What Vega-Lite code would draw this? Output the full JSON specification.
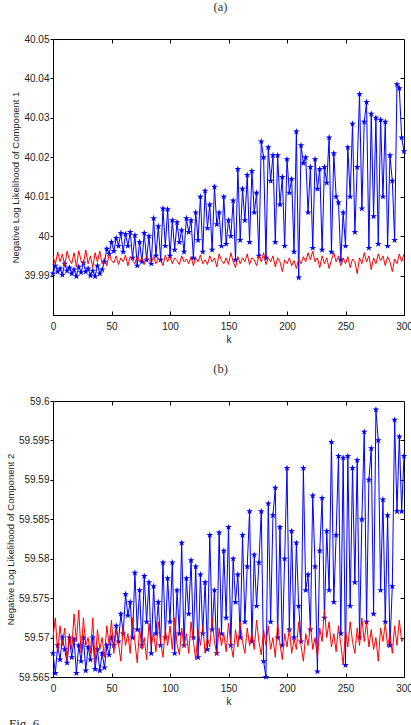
{
"$schema":"https://vega.github.io/schema/vega-lite/v6.json",
"background":"white",
"padding":{"left":4,"top":0,"right":0,"bottom":0},
"spacing":17,
"config":{
 "view":{"stroke":"black","strokeWidth":1},
 "axis":{"grid":false,"domain":false,"labelFont":"Liberation Sans","labelFontSize":10,"labelColor":"#222","titleFont":"Liberation Sans","titleFontWeight":"normal","titleFontSize":9.5,"titleColor":"#222","tickColor":"black","labelFlush":false,"labelOverlap":false},
 "title":{"font":"Liberation Serif","fontSize":12.5,"fontWeight":"normal","color":"#333"}
},
"title":{"text":"Fig. 6","orient":"bottom","anchor":"start","font":"Liberation Serif","fontSize":13,"color":"#222","offset":11,"dx":4},
"datasets":{"d":[
{"k":0,"a_blue":39.9905,"a_red":39.9950,"b_blue":59.5680,"b_red":59.5700},
{"k":2,"a_blue":39.9925,"a_red":39.9928,"b_blue":59.5655,"b_red":59.5725},
{"k":4,"a_blue":39.9910,"a_red":39.9960,"b_blue":59.5690,"b_red":59.5680},
{"k":6,"a_blue":39.9918,"a_red":39.9935,"b_blue":59.5672,"b_red":59.5715},
{"k":8,"a_blue":39.9902,"a_red":39.9955,"b_blue":59.5700,"b_red":59.5690},
{"k":10,"a_blue":39.9930,"a_red":39.9925,"b_blue":59.5685,"b_red":59.5712},
{"k":12,"a_blue":39.9912,"a_red":39.9962,"b_blue":59.5668,"b_red":59.5670},
{"k":14,"a_blue":39.9920,"a_red":39.9940,"b_blue":59.5700,"b_red":59.5705},
{"k":16,"a_blue":39.9905,"a_red":39.9930,"b_blue":59.5675,"b_red":59.5685},
{"k":18,"a_blue":39.9915,"a_red":39.9958,"b_blue":59.5698,"b_red":59.5730},
{"k":20,"a_blue":39.9898,"a_red":39.9922,"b_blue":59.5655,"b_red":59.5695},
{"k":22,"a_blue":39.9922,"a_red":39.9963,"b_blue":59.5690,"b_red":59.5735},
{"k":24,"a_blue":39.9908,"a_red":39.9938,"b_blue":59.5670,"b_red":59.5680},
{"k":26,"a_blue":39.9932,"a_red":39.9928,"b_blue":59.5700,"b_red":59.5725},
{"k":28,"a_blue":39.9910,"a_red":39.9965,"b_blue":59.5658,"b_red":59.5690},
{"k":30,"a_blue":39.9918,"a_red":39.9930,"b_blue":59.5688,"b_red":59.5700},
{"k":32,"a_blue":39.9900,"a_red":39.9950,"b_blue":59.5672,"b_red":59.5680},
{"k":34,"a_blue":39.9912,"a_red":39.9920,"b_blue":59.5700,"b_red":59.5725},
{"k":36,"a_blue":39.9898,"a_red":39.9958,"b_blue":59.5660,"b_red":59.5668},
{"k":38,"a_blue":39.9925,"a_red":39.9935,"b_blue":59.5685,"b_red":59.5710},
{"k":40,"a_blue":39.9905,"a_red":39.9962,"b_blue":59.5658,"b_red":59.5685},
{"k":42,"a_blue":39.9915,"a_red":39.9930,"b_blue":59.5680,"b_red":59.5700},
{"k":44,"a_blue":39.9935,"a_red":39.9945,"b_blue":59.5662,"b_red":59.5675},
{"k":46,"a_blue":39.9968,"a_red":39.9925,"b_blue":59.5690,"b_red":59.5715},
{"k":48,"a_blue":39.9955,"a_red":39.9955,"b_blue":59.5678,"b_red":59.5690},
{"k":50,"a_blue":39.9985,"a_red":39.9938,"b_blue":59.5700,"b_red":59.5722},
{"k":52,"a_blue":39.9962,"a_red":39.9932,"b_blue":59.5690,"b_red":59.5680},
{"k":54,"a_blue":39.9995,"a_red":39.9950,"b_blue":59.5715,"b_red":59.5710},
{"k":56,"a_blue":39.9975,"a_red":39.9928,"b_blue":59.5695,"b_red":59.5692},
{"k":58,"a_blue":40.0008,"a_red":39.9945,"b_blue":59.5730,"b_red":59.5670},
{"k":60,"a_blue":39.9960,"a_red":39.9935,"b_blue":59.5705,"b_red":59.5715},
{"k":62,"a_blue":40.0005,"a_red":39.9952,"b_blue":59.5755,"b_red":59.5690},
{"k":64,"a_blue":39.9975,"a_red":39.9925,"b_blue":59.5728,"b_red":59.5705},
{"k":66,"a_blue":40.0010,"a_red":39.9948,"b_blue":59.5745,"b_red":59.5680},
{"k":68,"a_blue":39.9945,"a_red":39.9938,"b_blue":59.5700,"b_red":59.5725},
{"k":70,"a_blue":40.0002,"a_red":39.9930,"b_blue":59.5782,"b_red":59.5695},
{"k":72,"a_blue":39.9925,"a_red":39.9950,"b_blue":59.5710,"b_red":59.5668},
{"k":74,"a_blue":39.9985,"a_red":39.9935,"b_blue":59.5760,"b_red":59.5712},
{"k":76,"a_blue":39.9935,"a_red":39.9945,"b_blue":59.5690,"b_red":59.5685},
{"k":78,"a_blue":40.0008,"a_red":39.9928,"b_blue":59.5778,"b_red":59.5700},
{"k":80,"a_blue":39.9940,"a_red":39.9950,"b_blue":59.5720,"b_red":59.5672},
{"k":82,"a_blue":40.0000,"a_red":39.9940,"b_blue":59.5770,"b_red":59.5718},
{"k":84,"a_blue":39.9930,"a_red":39.9932,"b_blue":59.5680,"b_red":59.5690},
{"k":86,"a_blue":40.0045,"a_red":39.9948,"b_blue":59.5765,"b_red":59.5705},
{"k":88,"a_blue":39.9950,"a_red":39.9930,"b_blue":59.5705,"b_red":59.5682},
{"k":90,"a_blue":40.0025,"a_red":39.9945,"b_blue":59.5745,"b_red":59.5720},
{"k":92,"a_blue":39.9940,"a_red":39.9938,"b_blue":59.5690,"b_red":59.5695},
{"k":94,"a_blue":40.0070,"a_red":39.9925,"b_blue":59.5795,"b_red":59.5675},
{"k":96,"a_blue":39.9975,"a_red":39.9952,"b_blue":59.5700,"b_red":59.5710},
{"k":98,"a_blue":40.0068,"a_red":39.9935,"b_blue":59.5775,"b_red":59.5690},
{"k":100,"a_blue":39.9950,"a_red":39.9948,"b_blue":59.5720,"b_red":59.5715},
{"k":102,"a_blue":40.0040,"a_red":39.9930,"b_blue":59.5795,"b_red":59.5685},
{"k":104,"a_blue":39.9965,"a_red":39.9945,"b_blue":59.5680,"b_red":59.5725},
{"k":106,"a_blue":40.0035,"a_red":39.9938,"b_blue":59.5760,"b_red":59.5692},
{"k":108,"a_blue":39.9985,"a_red":39.9928,"b_blue":59.5705,"b_red":59.5678},
{"k":110,"a_blue":40.0015,"a_red":39.9950,"b_blue":59.5820,"b_red":59.5712},
{"k":112,"a_blue":39.9960,"a_red":39.9935,"b_blue":59.5690,"b_red":59.5688},
{"k":114,"a_blue":40.0045,"a_red":39.9942,"b_blue":59.5775,"b_red":59.5705},
{"k":116,"a_blue":40.0010,"a_red":39.9930,"b_blue":59.5730,"b_red":59.5680},
{"k":118,"a_blue":40.0040,"a_red":39.9948,"b_blue":59.5798,"b_red":59.5720},
{"k":120,"a_blue":39.9945,"a_red":39.9925,"b_blue":59.5700,"b_red":59.5695},
{"k":122,"a_blue":40.0060,"a_red":39.9945,"b_blue":59.5790,"b_red":59.5672},
{"k":124,"a_blue":39.9990,"a_red":39.9935,"b_blue":59.5675,"b_red":59.5710},
{"k":126,"a_blue":40.0100,"a_red":39.9952,"b_blue":59.5780,"b_red":59.5690},
{"k":128,"a_blue":39.9960,"a_red":39.9930,"b_blue":59.5705,"b_red":59.5715},
{"k":130,"a_blue":40.0115,"a_red":39.9940,"b_blue":59.5770,"b_red":59.5680},
{"k":132,"a_blue":40.0020,"a_red":39.9928,"b_blue":59.5685,"b_red":59.5700},
{"k":134,"a_blue":40.0080,"a_red":39.9950,"b_blue":59.5830,"b_red":59.5688},
{"k":136,"a_blue":39.9965,"a_red":39.9935,"b_blue":59.5710,"b_red":59.5725},
{"k":138,"a_blue":40.0125,"a_red":39.9945,"b_blue":59.5760,"b_red":59.5695},
{"k":140,"a_blue":40.0030,"a_red":39.9922,"b_blue":59.5680,"b_red":59.5678},
{"k":142,"a_blue":40.0060,"a_red":39.9955,"b_blue":59.5833,"b_red":59.5712},
{"k":144,"a_blue":39.9975,"a_red":39.9938,"b_blue":59.5705,"b_red":59.5690},
{"k":146,"a_blue":40.0100,"a_red":39.9930,"b_blue":59.5810,"b_red":59.5705},
{"k":148,"a_blue":39.9980,"a_red":39.9945,"b_blue":59.5725,"b_red":59.5682},
{"k":150,"a_blue":40.0040,"a_red":39.9928,"b_blue":59.5840,"b_red":59.5718},
{"k":152,"a_blue":40.0000,"a_red":39.9958,"b_blue":59.5690,"b_red":59.5692},
{"k":154,"a_blue":40.0090,"a_red":39.9935,"b_blue":59.5800,"b_red":59.5675},
{"k":156,"a_blue":39.9940,"a_red":39.9920,"b_blue":59.5745,"b_red":59.5710},
{"k":158,"a_blue":40.0170,"a_red":39.9948,"b_blue":59.5780,"b_red":59.5688},
{"k":160,"a_blue":39.9990,"a_red":39.9930,"b_blue":59.5700,"b_red":59.5720},
{"k":162,"a_blue":40.0120,"a_red":39.9945,"b_blue":59.5830,"b_red":59.5695},
{"k":164,"a_blue":40.0040,"a_red":39.9935,"b_blue":59.5720,"b_red":59.5680},
{"k":166,"a_blue":40.0155,"a_red":39.9955,"b_blue":59.5790,"b_red":59.5712},
{"k":168,"a_blue":39.9985,"a_red":39.9928,"b_blue":59.5860,"b_red":59.5690},
{"k":170,"a_blue":40.0165,"a_red":39.9945,"b_blue":59.5695,"b_red":59.5705},
{"k":172,"a_blue":40.0060,"a_red":39.9940,"b_blue":59.5805,"b_red":59.5685},
{"k":174,"a_blue":40.0110,"a_red":39.9925,"b_blue":59.5740,"b_red":59.5722},
{"k":176,"a_blue":39.9950,"a_red":39.9950,"b_blue":59.5795,"b_red":59.5695},
{"k":178,"a_blue":40.0240,"a_red":39.9935,"b_blue":59.5860,"b_red":59.5678},
{"k":180,"a_blue":40.0200,"a_red":39.9958,"b_blue":59.5670,"b_red":59.5710},
{"k":182,"a_blue":39.9945,"a_red":39.9928,"b_blue":59.5650,"b_red":59.5690},
{"k":184,"a_blue":40.0225,"a_red":39.9945,"b_blue":59.5870,"b_red":59.5715},
{"k":186,"a_blue":40.0140,"a_red":39.9935,"b_blue":59.5720,"b_red":59.5685},
{"k":188,"a_blue":40.0205,"a_red":39.9950,"b_blue":59.5855,"b_red":59.5700},
{"k":190,"a_blue":39.9985,"a_red":39.9922,"b_blue":59.5890,"b_red":59.5675},
{"k":192,"a_blue":40.0205,"a_red":39.9945,"b_blue":59.5700,"b_red":59.5718},
{"k":194,"a_blue":40.0080,"a_red":39.9935,"b_blue":59.5840,"b_red":59.5692},
{"k":196,"a_blue":40.0150,"a_red":39.9910,"b_blue":59.5690,"b_red":59.5672},
{"k":198,"a_blue":39.9975,"a_red":39.9940,"b_blue":59.5800,"b_red":59.5705},
{"k":200,"a_blue":40.0195,"a_red":39.9930,"b_blue":59.5915,"b_red":59.5688},
{"k":202,"a_blue":40.0110,"a_red":39.9945,"b_blue":59.5710,"b_red":59.5712},
{"k":204,"a_blue":40.0145,"a_red":39.9925,"b_blue":59.5835,"b_red":59.5680},
{"k":206,"a_blue":39.9960,"a_red":39.9938,"b_blue":59.5700,"b_red":59.5698},
{"k":208,"a_blue":40.0265,"a_red":39.9918,"b_blue":59.5820,"b_red":59.5685},
{"k":210,"a_blue":39.9895,"a_red":39.9942,"b_blue":59.5740,"b_red":59.5720},
{"k":212,"a_blue":40.0230,"a_red":39.9930,"b_blue":59.5695,"b_red":59.5690},
{"k":214,"a_blue":40.0185,"a_red":39.9948,"b_blue":59.5915,"b_red":59.5670},
{"k":216,"a_blue":40.0200,"a_red":39.9935,"b_blue":59.5760,"b_red":59.5705},
{"k":218,"a_blue":40.0060,"a_red":39.9958,"b_blue":59.5780,"b_red":59.5690},
{"k":220,"a_blue":40.0175,"a_red":39.9940,"b_blue":59.5710,"b_red":59.5715},
{"k":222,"a_blue":39.9970,"a_red":39.9962,"b_blue":59.5880,"b_red":59.5685},
{"k":224,"a_blue":40.0195,"a_red":39.9935,"b_blue":59.5790,"b_red":59.5700},
{"k":226,"a_blue":40.0120,"a_red":39.9945,"b_blue":59.5657,"b_red":59.5675},
{"k":228,"a_blue":40.0170,"a_red":39.9920,"b_blue":59.5810,"b_red":59.5712},
{"k":230,"a_blue":39.9965,"a_red":39.9950,"b_blue":59.5877,"b_red":59.5695},
{"k":232,"a_blue":40.0175,"a_red":39.9930,"b_blue":59.5725,"b_red":59.5735},
{"k":234,"a_blue":40.0135,"a_red":39.9945,"b_blue":59.5835,"b_red":59.5700},
{"k":236,"a_blue":40.0250,"a_red":39.9918,"b_blue":59.5760,"b_red":59.5720},
{"k":238,"a_blue":39.9960,"a_red":39.9940,"b_blue":59.5948,"b_red":59.5688},
{"k":240,"a_blue":40.0210,"a_red":39.9958,"b_blue":59.5745,"b_red":59.5705},
{"k":242,"a_blue":40.0100,"a_red":39.9935,"b_blue":59.5830,"b_red":59.5682},
{"k":244,"a_blue":40.0085,"a_red":39.9950,"b_blue":59.5930,"b_red":59.5715},
{"k":246,"a_blue":39.9940,"a_red":39.9925,"b_blue":59.5705,"b_red":59.5692},
{"k":248,"a_blue":40.0060,"a_red":39.9945,"b_blue":59.5928,"b_red":59.5665},
{"k":250,"a_blue":39.9975,"a_red":39.9930,"b_blue":59.5665,"b_red":59.5710},
{"k":252,"a_blue":40.0225,"a_red":39.9948,"b_blue":59.5930,"b_red":59.5688},
{"k":254,"a_blue":40.0100,"a_red":39.9920,"b_blue":59.5740,"b_red":59.5720},
{"k":256,"a_blue":40.0285,"a_red":39.9942,"b_blue":59.5915,"b_red":59.5695},
{"k":258,"a_blue":40.0010,"a_red":39.9935,"b_blue":59.5770,"b_red":59.5680},
{"k":260,"a_blue":40.0175,"a_red":39.9905,"b_blue":59.5925,"b_red":59.5712},
{"k":262,"a_blue":40.0360,"a_red":39.9945,"b_blue":59.5700,"b_red":59.5690},
{"k":264,"a_blue":40.0070,"a_red":39.9930,"b_blue":59.5850,"b_red":59.5725},
{"k":266,"a_blue":40.0290,"a_red":39.9958,"b_blue":59.5961,"b_red":59.5695},
{"k":268,"a_blue":40.0340,"a_red":39.9935,"b_blue":59.5720,"b_red":59.5720},
{"k":270,"a_blue":39.9970,"a_red":39.9950,"b_blue":59.5900,"b_red":59.5688},
{"k":272,"a_blue":40.0310,"a_red":39.9915,"b_blue":59.5940,"b_red":59.5710},
{"k":274,"a_blue":40.0050,"a_red":39.9945,"b_blue":59.5730,"b_red":59.5685},
{"k":276,"a_blue":40.0300,"a_red":39.9930,"b_blue":59.5989,"b_red":59.5700},
{"k":278,"a_blue":39.9980,"a_red":39.9955,"b_blue":59.5950,"b_red":59.5670},
{"k":280,"a_blue":40.0295,"a_red":39.9938,"b_blue":59.5760,"b_red":59.5712},
{"k":282,"a_blue":40.0100,"a_red":39.9950,"b_blue":59.5875,"b_red":59.5695},
{"k":284,"a_blue":40.0290,"a_red":39.9925,"b_blue":59.5720,"b_red":59.5718},
{"k":286,"a_blue":39.9975,"a_red":39.9948,"b_blue":59.5855,"b_red":59.5688},
{"k":288,"a_blue":40.0205,"a_red":39.9935,"b_blue":59.5690,"b_red":59.5705},
{"k":290,"a_blue":40.0140,"a_red":39.9910,"b_blue":59.5765,"b_red":59.5680},
{"k":292,"a_blue":39.9990,"a_red":39.9942,"b_blue":59.5976,"b_red":59.5715},
{"k":294,"a_blue":40.0385,"a_red":39.9930,"b_blue":59.5860,"b_red":59.5690},
{"k":296,"a_blue":40.0375,"a_red":39.9955,"b_blue":59.5955,"b_red":59.5722},
{"k":298,"a_blue":40.0250,"a_red":39.9935,"b_blue":59.5860,"b_red":59.5695},
{"k":300,"a_blue":40.0215,"a_red":39.9955,"b_blue":59.5930,"b_red":59.5700}
]},
"vconcat":[
{
 "width":351,"height":276,
 "title":{"text":"(a)","offset":20.5,"dx":-8},
 "data":{"name":"d"},
 "resolve":{"axis":{"x":"independent","y":"independent"}},
 "layer":[
  {"mark":{"type":"line","color":"#0000ff","strokeWidth":1},
   "encoding":{
    "x":{"field":"k","type":"quantitative","scale":{"domain":[0,300],"nice":false,"zero":false},
         "axis":{"orient":"bottom","values":[0,50,100,150,200,250,300],"tickSize":-4,"labelPadding":10,"title":"k","titlePadding":3,"titleFontSize":10}},
    "y":{"field":"a_blue","type":"quantitative","scale":{"domain":[39.98,40.05],"nice":false,"zero":false},
         "axis":{"orient":"left","values":[39.99,40,40.01,40.02,40.03,40.04,40.05],"format":"~g","tickSize":3,"labelPadding":1,"title":"Negative Log Likelihood of Component 1","titlePadding":3}}}},
  {"mark":{"type":"point","shape":"M0,-1L0.223,-0.307L0.951,-0.309L0.361,0.117L0.588,0.809L0,0.38L-0.588,0.809L-0.361,0.117L-0.951,-0.309L-0.223,-0.307Z","filled":true,"color":"#0000ff","size":50,"opacity":1},
   "encoding":{
    "x":{"field":"k","type":"quantitative","scale":{"domain":[0,300],"nice":false,"zero":false},"axis":null},
    "y":{"field":"a_blue","type":"quantitative","scale":{"domain":[39.98,40.05],"nice":false,"zero":false},"axis":null}}},
  {"mark":{"type":"line","color":"#ff0000","strokeWidth":1},
   "encoding":{
    "x":{"field":"k","type":"quantitative","scale":{"domain":[0,300],"nice":false,"zero":false},
         "axis":{"orient":"top","values":[50,100,150,200,250],"tickSize":-4,"labels":false,"title":null}},
    "y":{"field":"a_red","type":"quantitative","scale":{"domain":[39.98,40.05],"nice":false,"zero":false},
         "axis":{"orient":"right","values":[39.99,40,40.01,40.02,40.03,40.04],"tickSize":-4,"labels":false,"title":null}}}}
 ]
},
{
 "width":351,"height":276,
 "title":{"text":"(b)","offset":20.5,"dx":-8},
 "data":{"name":"d"},
 "resolve":{"axis":{"x":"independent","y":"independent"}},
 "layer":[
  {"mark":{"type":"line","color":"#0000ff","strokeWidth":1},
   "encoding":{
    "x":{"field":"k","type":"quantitative","scale":{"domain":[0,300],"nice":false,"zero":false},
         "axis":{"orient":"bottom","values":[0,50,100,150,200,250,300],"tickSize":-4,"labelPadding":10,"title":"k","titlePadding":3,"titleFontSize":10}},
    "y":{"field":"b_blue","type":"quantitative","scale":{"domain":[59.565,59.6],"nice":false,"zero":false},
         "axis":{"orient":"left","values":[59.565,59.57,59.575,59.58,59.585,59.59,59.595,59.6],"format":"~g","tickSize":3,"labelPadding":1,"title":"Negative Log Likelihood of Component 2","titlePadding":3}}}},
  {"mark":{"type":"point","shape":"M0,-1L0.223,-0.307L0.951,-0.309L0.361,0.117L0.588,0.809L0,0.38L-0.588,0.809L-0.361,0.117L-0.951,-0.309L-0.223,-0.307Z","filled":true,"color":"#0000ff","size":50,"opacity":1},
   "encoding":{
    "x":{"field":"k","type":"quantitative","scale":{"domain":[0,300],"nice":false,"zero":false},"axis":null},
    "y":{"field":"b_blue","type":"quantitative","scale":{"domain":[59.565,59.6],"nice":false,"zero":false},"axis":null}}},
  {"mark":{"type":"line","color":"#ff0000","strokeWidth":1},
   "encoding":{
    "x":{"field":"k","type":"quantitative","scale":{"domain":[0,300],"nice":false,"zero":false},
         "axis":{"orient":"top","values":[50,100,150,200,250],"tickSize":-4,"labels":false,"title":null}},
    "y":{"field":"b_red","type":"quantitative","scale":{"domain":[59.565,59.6],"nice":false,"zero":false},
         "axis":{"orient":"right","values":[59.57,59.575,59.58,59.585,59.59,59.595],"tickSize":-4,"labels":false,"title":null}}}}
 ]
}
]
}
